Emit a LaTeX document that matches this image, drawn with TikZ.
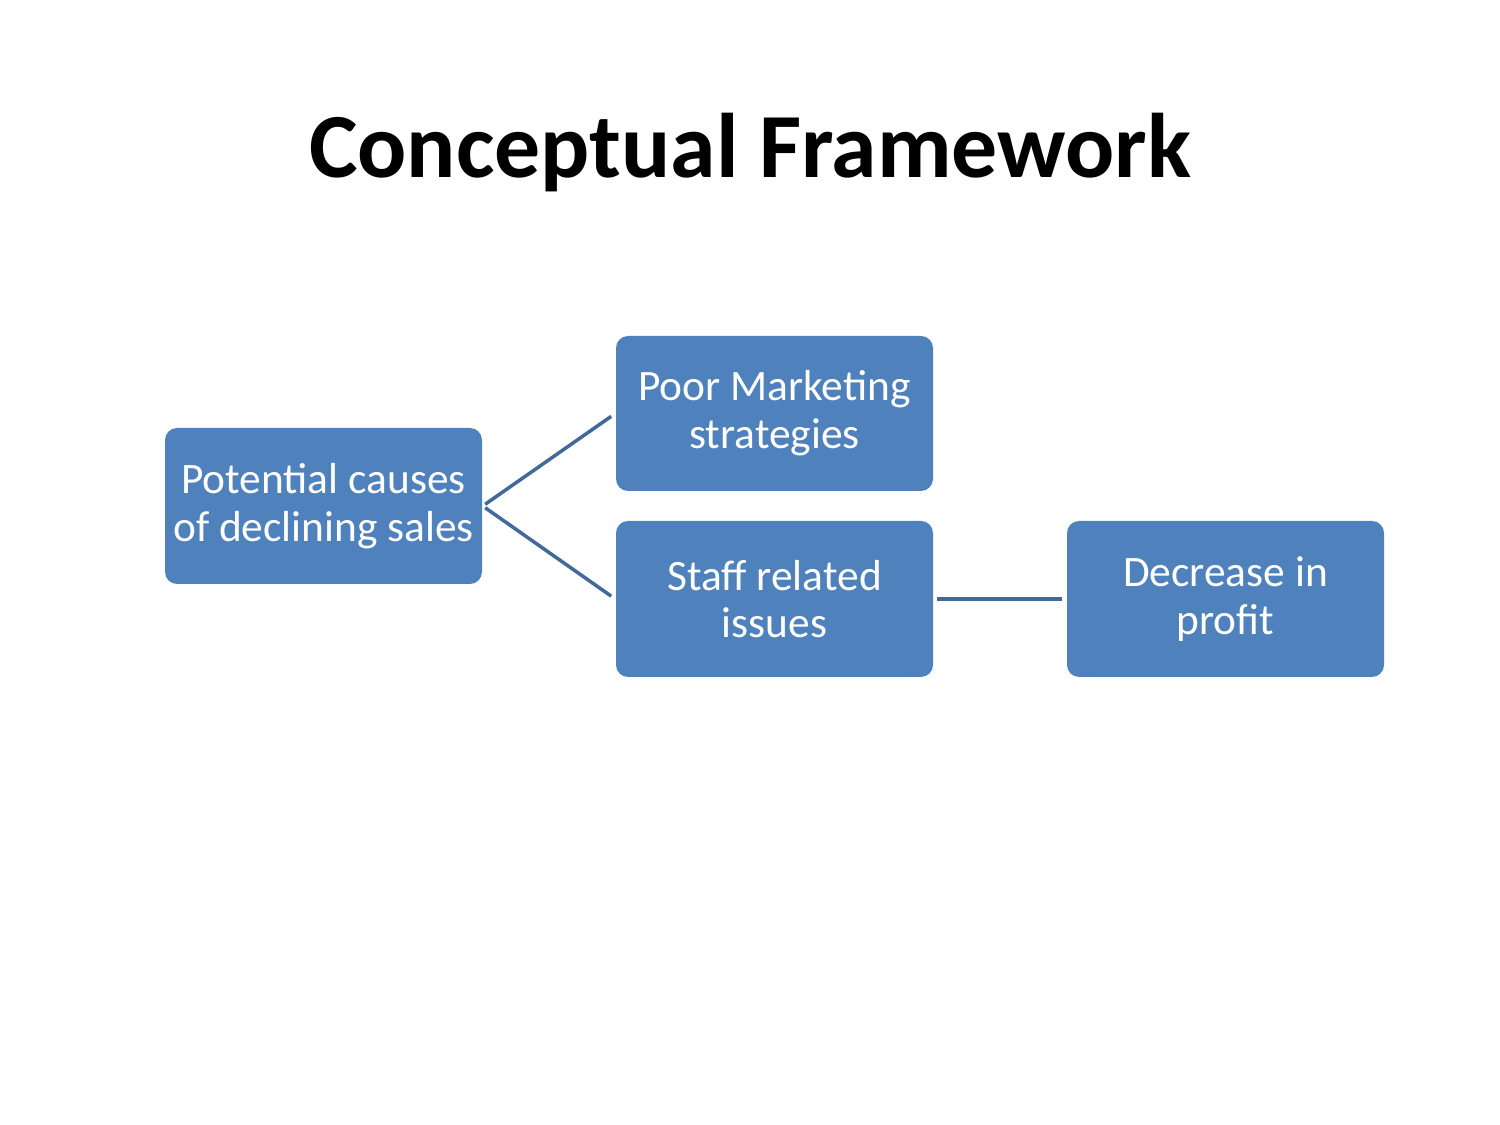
\documentclass[tikz,border=0pt]{standalone}
\usepackage{fontspec}
\setmainfont{Carlito}
\definecolor{boxblue}{HTML}{4F81BD}
\definecolor{linkblue}{HTML}{41699A}
\tikzset{
  cause/.style={fill=boxblue, rounded corners=0.12cm, minimum width=3.17cm, minimum height=1.56cm,
    text=white, align=center, font=\fontsize{12.35}{13.6}\selectfont, inner sep=0pt},
  link/.style={draw=linkblue, line width=0.035cm}
}
\begin{document}
\begin{tikzpicture}
\useasboundingbox (0,0) rectangle (15,11.25);
\node[anchor=base, font=\fontsize{26.1}{31}\selectfont\bfseries] (title) at (7.5,9.47) {Conceptual Framework};
\node[cause] (causes) at (3.235,6.19) {Potential causes\\of declining sales};
\node[cause, minimum height=1.55cm] (marketing) at (7.745,7.115) {Poor Marketing\\strategies};
\node[cause] (staff) at (7.745,5.26) {Staff related\\issues};
\node[cause] (profit) at (12.255,5.26) {Decrease in\\profit};
\draw[link, shorten <=0.03cm, shorten >=0.05cm] (causes.east) -- (marketing.west);
\draw[link, shorten <=0.03cm, shorten >=0.05cm] (causes.east) -- (staff.west);
\draw[link, shorten <=0.03cm, shorten >=0.04cm] (staff.east) -- (profit.west);
\end{tikzpicture}
\end{document}
